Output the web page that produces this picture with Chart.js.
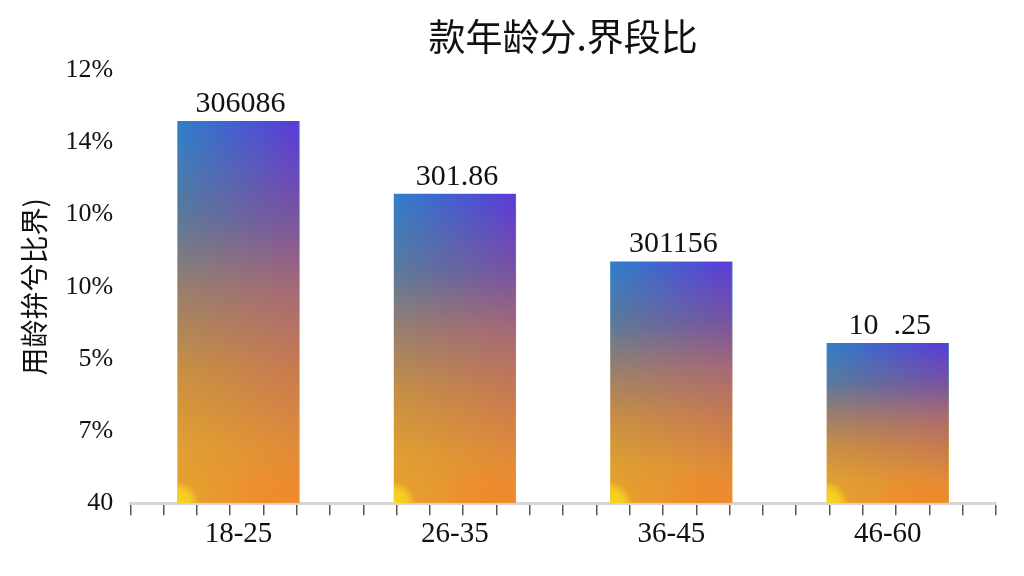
<!DOCTYPE html>
<html>
<head>
<meta charset="utf-8">
<script src="https://cdn.jsdelivr.net/npm/chart.js@4"></script>
<style>
  html, body { margin: 0; padding: 0; background: #ffffff; }
  #wrap { width: 1024px; height: 576px; }
</style>
</head>
<body>
<div id="wrap"><canvas id="ageChart"></canvas></div>
<script>
// chart data
const categories = ["18-25", "26-35", "36-45", "46-60"];
const barValues = [5.30, 4.29, 3.35, 2.22];
const valueLabels = ["306086", "301.86", "301156", "10  .25"];
const yTickLabels = ["40", "7%", "5%", "10%", "10%", "14%", "12%"];
const chartTitle = "款年龄分.界段比";
const yTitle = "用龄拚兮比界)";

const serif = "'Liberation Serif', 'DejaVu Serif', serif";
const cjk = "'Noto Sans CJK SC', 'Noto Sans', sans-serif";

// colour stops down the left and right edge of a bar
const leftStops = [[0, "#2f80ca"], [0.25, "#5a7a9c"], [0.45, "#9a806c"], [0.65, "#c89044"], [0.85, "#e0a032"], [1, "#e8a22e"]];
const rightStops = [[0, "#5b3ad8"], [0.25, "#7a52a2"], [0.45, "#a86a74"], [0.65, "#c87a52"], [0.85, "#e08a3a"], [1, "#ef8a2e"]];

function verticalGradient(c, top, base, stops) {
    const g = c.createLinearGradient(0, top, 0, base);
    stops.forEach((s) => g.addColorStop(s[0], s[1]));
    return g;
}

// left colours as the bar fill
function barGradient(context) {
    const chart = context.chart;
    if (!chart.chartArea) return "#c07a60";
    const y = chart.scales.y;
    return verticalGradient(chart.ctx, y.getPixelForValue(barValues[context.dataIndex]), y.getPixelForValue(0), leftStops);
}

// blend the right colours in from left to right
const barTint = {
    id: "barTint",
    afterDatasetsDraw(chart) {
        const ctx = chart.ctx;
        const dpr = chart.currentDevicePixelRatio || 1;
        chart.getDatasetMeta(0).data.forEach((bar) => {
            const left = bar.x - bar.width / 2;
            const w = bar.width;
            const h = bar.base - bar.y;
            const off = document.createElement("canvas");
            off.width = Math.ceil(w * dpr);
            off.height = Math.ceil(h * dpr);
            const o = off.getContext("2d");
            o.scale(dpr, dpr);
            o.fillStyle = verticalGradient(o, 0, h, rightStops);
            o.fillRect(0, 0, w, h);
            o.globalCompositeOperation = "destination-in";
            const mask = o.createLinearGradient(0, 0, w, 0);
            mask.addColorStop(0, "rgba(0,0,0,0)");
            mask.addColorStop(1, "rgba(0,0,0,1)");
            o.fillStyle = mask;
            o.fillRect(0, 0, w, h);

            ctx.save();
            ctx.drawImage(off, left, bar.y, w, h);
            ctx.beginPath();
            ctx.rect(left, bar.y, w, h);
            ctx.clip();
            let r = ctx.createRadialGradient(left + w * 0.72, bar.base, 0, left + w * 0.72, bar.base, 40);
            r.addColorStop(0, "rgba(242,136,40,0.7)");
            r.addColorStop(1, "rgba(242,136,40,0)");
            ctx.fillStyle = r;
            ctx.fillRect(left, bar.y, w, h);
            r = ctx.createRadialGradient(left, bar.base, 0, left, bar.base, 22);
            r.addColorStop(0, "rgba(248,214,30,1)");
            r.addColorStop(0.6, "rgba(248,214,30,0.8)");
            r.addColorStop(1, "rgba(248,214,30,0)");
            ctx.fillStyle = r;
            ctx.fillRect(left, bar.y, w, h);
            ctx.restore();
        });
    }
};

// numbers above the bars
const barLabels = {
    id: "barLabels",
    afterDatasetsDraw(chart) {
        const ctx = chart.ctx;
        ctx.save();
        ctx.font = "30px " + serif;
        ctx.fillStyle = "#111111";
        ctx.textAlign = "center";
        ctx.textBaseline = "bottom";
        chart.getDatasetMeta(0).data.forEach((bar, i) => {
            ctx.fillText(valueLabels[i], bar.x + 2, bar.y - 2);
        });
        ctx.restore();
    }
};

const ctx = document.getElementById("ageChart").getContext("2d");
new Chart(ctx, {
    type: "bar",
    data: {
        labels: categories,
        datasets: [{
            data: barValues,
            backgroundColor: barGradient,
            borderWidth: 0,
            categoryPercentage: 1,
            barPercentage: 0.565
        }]
    },
    options: {
        responsive: true,
        maintainAspectRatio: false,
        animation: false,
        layout: { padding: { left: 18, right: 28, top: 0, bottom: 30 } },
        plugins: {
            legend: { display: false },
            tooltip: { enabled: false },
            title: {
                display: true,
                text: chartTitle,
                fullSize: false,
                color: "#111111",
                font: { family: cjk, size: 37, weight: "normal" },
                padding: { top: 15, bottom: 11 }
            }
        },
        scales: {
            x: {
                type: "category",
                weight: 1,
                grid: { display: false },
                border: { display: false },
                ticks: { color: "#111111", font: { family: serif, size: 29 }, padding: -6 }
            },
            xTicks: {
                type: "linear",
                position: "bottom",
                weight: 0,
                min: 0,
                max: 25,
                grid: { drawOnChartArea: false, drawTicks: true, tickLength: 12, color: "#555555", lineWidth: 1.5 },
                border: { display: true, color: "#d6d6d6", width: 3 },
                ticks: { display: false, stepSize: 1 }
            },
            y: {
                min: 0,
                max: 6,
                grid: { display: false },
                border: { display: false },
                ticks: {
                    stepSize: 1,
                    color: "#111111",
                    font: { family: serif, size: 26 },
                    padding: 9,
                    callback: (v) => yTickLabels[v]
                },
                title: {
                    display: true,
                    text: yTitle,
                    color: "#111111",
                    font: { family: cjk, size: 28 },
                    padding: { top: 0, bottom: 5 }
                }
            }
        }
    },
    plugins: [barTint, barLabels]
});
</script>
</body>
</html>
